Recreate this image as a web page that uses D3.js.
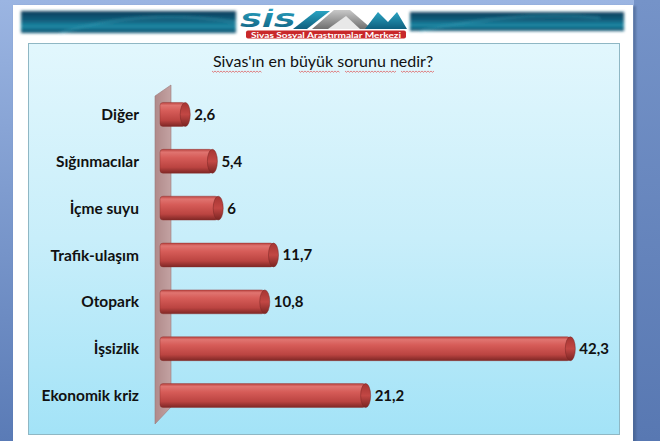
<!DOCTYPE html>
<html><head><meta charset="utf-8">
<script src="https://cdn.jsdelivr.net/npm/d3@7"></script>
<style>html,body{margin:0;padding:0;background:#fff;}svg{display:block;}</style>
</head><body>
<svg id="c" width="660" height="441"></svg>
<script>
const categories = ["Diğer","Sığınmacılar","İçme suyu","Trafik-ulaşım","Otopark","İşsizlik","Ekonomik kriz"];
const values = [2.6, 5.4, 6, 11.7, 10.8, 42.3, 21.2];
const valueLabels = ["2,6","5,4","6","11,7","10,8","42,3","21,2"];
const title = "Sivas'ın en büyük sorunu nedir?";
const logoSub = "Sivas Sosyal Araştırmalar Merkezi";

const svg = d3.select("#c");
const defs = svg.append("defs");

function lin(id, stops, vertical=true){
  const g = defs.append("linearGradient").attr("id", id)
    .attr("x1",0).attr("y1",0).attr("x2", vertical?0:1).attr("y2", vertical?1:0);
  stops.forEach(s=>g.append("stop").attr("offset",s[0]).attr("stop-color",s[1]));
}
lin("outerL", [[0,"#9bb5e2"],[1,"#5a7bb6"]]);
lin("outerR", [[0,"#7593c8"],[1,"#5878b2"]]);
lin("plotBg", [[0,"#e2f7fd"],[0.5,"#c8eefa"],[1,"#a3e3f7"]]);
lin("bar", [[0,"#b9423f"],[0.12,"#e07470"],[0.35,"#d65c58"],[0.75,"#bb4441"],[1,"#7e2725"]]);
lin("cap", [[0,"#a63532"],[0.5,"#c24744"],[1,"#7a2422"]]);
lin("wall", [[0,"#b08a8a"],[1,"#c3a2a2"]], false);
lin("banner", [[0,"#0a3e5c"],[0.45,"#12607e"],[0.7,"#1c8aa6"],[1,"#0e4a68"]]);
lin("logoT", [[0,"#2aa3c2"],[1,"#0f5f7e"]]);
lin("logoG", [[0,"#c8c8c8"],[1,"#6f6f6f"]]);
defs.append("filter").attr("id","blur").append("feGaussianBlur").attr("stdDeviation",1.6);
defs.append("filter").attr("id","shadow").append("feGaussianBlur").attr("stdDeviation",1.2);

svg.append("rect").attr("x",0).attr("y",0).attr("width",660).attr("height",441).attr("fill","url(#outerL)");
svg.append("rect").attr("x",634).attr("y",0).attr("width",26).attr("height",441).attr("fill","url(#outerR)");
svg.append("rect").attr("x",14).attr("y",6).attr("width",622).attr("height",440).attr("fill","#3d5680").attr("opacity",0.5).attr("filter","url(#shadow)");
svg.append("rect").attr("x",13).attr("y",5).attr("width",620).attr("height",440).attr("fill","#ffffff");

const hb = svg.append("g").attr("filter","url(#blur)");
hb.append("rect").attr("x",21).attr("y",11).attr("width",215).attr("height",22).attr("fill","url(#banner)");
hb.append("rect").attr("x",410).attr("y",12).attr("width",214).attr("height",19).attr("fill","url(#banner)");
hb.append("path").attr("d","M60 33 Q140 8 236 22").attr("stroke","#3aa6c0").attr("stroke-width",1.5).attr("fill","none").attr("opacity",0.6);
hb.append("path").attr("d","M420 31 Q520 10 600 18").attr("stroke","#3aa6c0").attr("stroke-width",1.5).attr("fill","none").attr("opacity",0.6);

// logo
const lg = svg.append("g");
lg.append("text").attr("x",240).attr("y",26.5).attr("font-family","'DejaVu Sans', sans-serif").attr("font-weight",700)
  .attr("font-style","italic").attr("font-size",20).attr("fill","url(#logoT)")
  .attr("textLength",56).attr("lengthAdjust","spacingAndGlyphs").text("SİS");
lg.append("path").attr("d","M293 29 L316 11 L330 11 L307 29 Z").attr("fill","url(#logoT)");
lg.append("path").attr("d","M312 29 L334 10 L350 10 L372 29 Z").attr("fill","url(#logoG)");
lg.append("path").attr("d","M328 29 L346 16 L360 29 Z").attr("fill","#e8e8e8");
lg.append("path").attr("d","M365 29 L378 12 L388 22 L397 12 L407 29 Z").attr("fill","url(#logoT)");
lg.append("rect").attr("x",246).attr("y",30.5).attr("width",160).attr("height",8).attr("rx",2).attr("fill","#c8282a");
lg.append("text").attr("x",326).attr("y",37.6).attr("text-anchor","middle").attr("font-family","Lato, sans-serif")
  .attr("font-weight",700).attr("font-size",7).attr("fill","#ffffff")
  .attr("textLength",150).attr("lengthAdjust","spacingAndGlyphs").text(logoSub);

svg.append("rect").attr("x",28.5).attr("y",43.5).attr("width",591).attr("height",391)
  .attr("fill","url(#plotBg)").attr("stroke","#8fb7c4").attr("stroke-width",1);

svg.append("text").attr("x",323).attr("y",67).attr("text-anchor","middle")
  .attr("font-family","Lato, sans-serif").attr("font-size",16).attr("fill","#111").text(title);
const squig = [[212,262],[299,340],[345,396],[401,435]];
squig.forEach(s=>{
  let d = "M"+s[0]+" 71";
  for(let x=s[0]+1.5, i=0; x<=s[1]; x+=1.5, i++) d += " L"+x+" "+(i%2?71:72.3);
  svg.append("path").attr("d",d).attr("stroke","#e05050").attr("stroke-width",0.7).attr("fill","none");
});

const y = d3.scaleBand().domain(categories).range([91,419]).paddingInner(0.49).paddingOuter(0.245);
const x = d3.scaleLinear().domain([0,45]).range([160,596.5]);
const bw = y.bandwidth();
const r0 = y.range();

const wx = x(0);
svg.append("path")
  .attr("d", `M${wx-5} ${r0[0]+5} L${wx+11} ${r0[0]-6} L${wx+11} ${r0[1]-12} L${wx-5} ${r0[1]+5} Z`)
  .attr("fill","url(#wall)").attr("stroke","#9c7878").attr("stroke-width",0.6);

const bars = svg.append("g").selectAll("g").data(categories).join("g");
bars.append("rect")
  .attr("x", x(0)).attr("y", d=>y(d)).attr("height", bw)
  .attr("width", (d,i)=>x(values[i])-x(0)).attr("rx",3)
  .attr("fill","url(#bar)").attr("stroke","#8a2e2c").attr("stroke-width",0.4);
bars.append("ellipse")
  .attr("cx",(d,i)=>x(values[i])).attr("cy",d=>y(d)+bw/2)
  .attr("rx",5).attr("ry",bw/2)
  .attr("fill","url(#cap)").attr("stroke","#7a2624").attr("stroke-width",0.5);

svg.append("g").selectAll("text").data(categories).join("text")
  .attr("x",139).attr("y",d=>y(d)+bw/2).attr("dy","0.36em").attr("text-anchor","end")
  .attr("font-family","Lato, sans-serif").attr("font-weight",700).attr("font-size",15.5).attr("fill","#111")
  .text(d=>d);

svg.append("g").selectAll("text").data(categories).join("text")
  .attr("x",(d,i)=>x(values[i])+9).attr("y",d=>y(d)+bw/2).attr("dy","0.36em")
  .attr("font-family","Lato, sans-serif").attr("font-weight",700).attr("font-size",15).attr("fill","#111")
  .text((d,i)=>valueLabels[i]);
</script>
</body></html>
